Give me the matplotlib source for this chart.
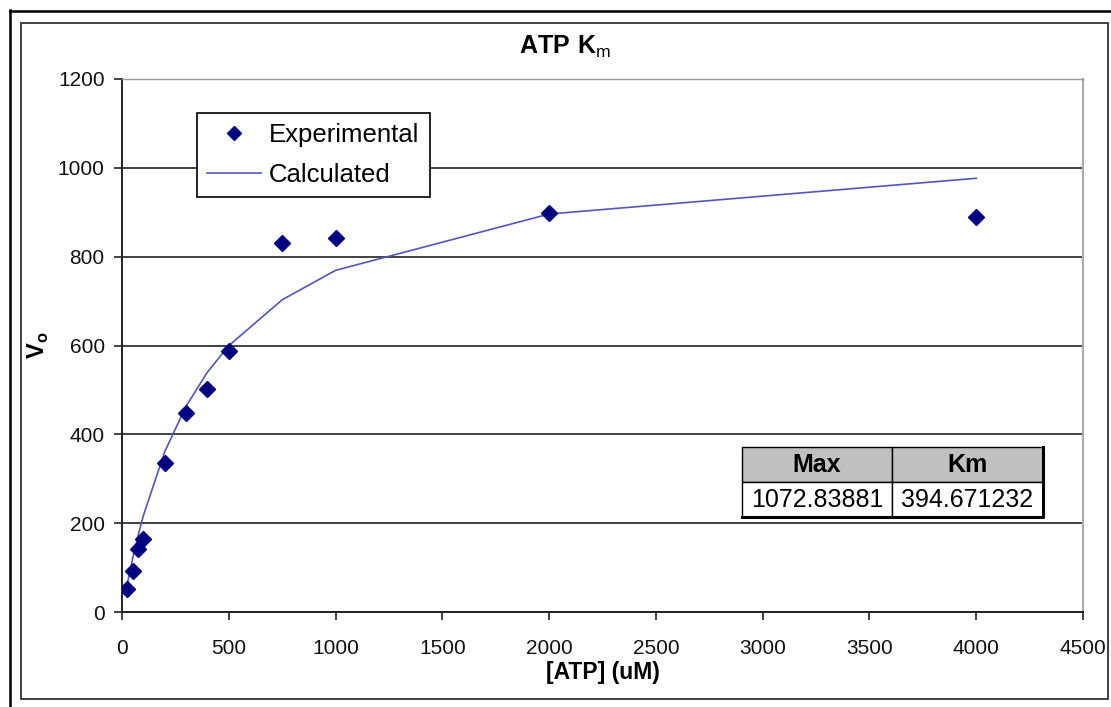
import matplotlib
matplotlib.use("Agg")
import matplotlib.pyplot as plt
from matplotlib.lines import Line2D

plt.rcParams['font.family'] = ['Liberation Sans', 'DejaVu Sans']
plt.rcParams['mathtext.fontset'] = 'custom'
plt.rcParams['mathtext.rm'] = 'Liberation Sans'
plt.rcParams['mathtext.bf'] = 'Liberation Sans:bold'

# data
atp = [25, 50, 75, 100, 200, 300, 400, 500, 750, 1000, 2000, 4000]
v_exp = [52, 93, 141, 165, 336, 447, 502, 588, 831, 842, 898, 890]
v_calc = [63.9, 120.6, 171.3, 216.9, 360.8, 463.3, 540.0, 599.6, 702.9, 769.2, 896.0, 976.5]
fit_cols = ["Max", "Km"]
fit_vals = ["1072.83881", "394.671232"]
x_ticks = list(range(0, 4501, 500))
y_ticks = list(range(0, 1201, 200))

W, H = 1111, 707
fig = plt.figure(figsize=(W / 100, H / 100), dpi=100)

# frames around the chart
fig.add_artist(Line2D([10 / W, 10 / W], [0, 1 - 10 / H], color='black', lw=1.8))
fig.add_artist(Line2D([10 / W, 1], [1 - 11 / H, 1 - 11 / H], color='black', lw=1.8))
fig.add_artist(plt.Rectangle((21 / W, 1 - 699 / H), (1108 - 21) / W, (699 - 23) / H,
                             fill=False, edgecolor='#333333', lw=1.3, transform=fig.transFigure))

ax = fig.add_axes([122 / W, 1 - 612 / H, (1083 - 122) / W, (612 - 79) / H])

ax.plot(atp, v_calc, color='#5555BB', lw=1.2, label='Calculated', zorder=3)
ax.plot(atp, v_exp, linestyle='none', marker='D', ms=8.5, color='#000080',
        label='Experimental', zorder=4)

ax.set_xlim(0, 4500)
ax.set_ylim(0, 1200)
ax.set_xticks(x_ticks)
ax.set_yticks(y_ticks)
ax.tick_params(axis='both', direction='out', length=5.5, width=1.2, color='#222222',
               labelsize=15, labelcolor='#111111')
ax.tick_params(axis='x', pad=14)
ax.tick_params(axis='y', pad=7)

ax.grid(axis='y', color='#333333', lw=1.3)
ax.set_axisbelow(True)
ax.spines['left'].set_color('#222222')
ax.spines['left'].set_linewidth(1.4)
ax.spines['bottom'].set_color('#222222')
ax.spines['bottom'].set_linewidth(1.4)
ax.spines['top'].set_color('#999999')
ax.spines['top'].set_linewidth(1.0)
ax.spines['right'].set_color('#aaaaaa')
ax.spines['right'].set_linewidth(1.5)

ax.set_xlabel('[ATP] (uM)', fontsize=16.5, fontweight='bold', labelpad=2)
ax.set_ylabel(r'$\mathbf{V}_\mathbf{o}$', fontsize=17)
ax.yaxis.set_label_coords(-0.074, 0.5)

fig.text(565 / W, 1 - 47 / H, r'$\mathbf{ATP\ K}_\mathrm{m}$', fontsize=18,
         ha='center', va='center')

handles = [ax.get_lines()[1], ax.get_lines()[0]]
leg = ax.legend(handles, ['Experimental', 'Calculated'], loc='upper left',
                bbox_to_anchor=(0.078, 0.936), borderaxespad=0, fontsize=18.5,
                frameon=True, fancybox=False, framealpha=1, edgecolor='black',
                handlelength=2.1, handletextpad=0.3, labelspacing=0.6,
                borderpad=0.4, markerscale=0.8)
leg.get_frame().set_linewidth(1.2)

tbl = ax.table(cellText=[fit_vals], colLabels=fit_cols, cellLoc='center',
               bbox=[0.645, 0.178, 0.313, 0.131])
tbl.auto_set_font_size(False)
for (r, c), cell in tbl.get_celld().items():
    cell.set_edgecolor('black')
    cell.set_linewidth(1.0)
    cell.get_text().set_fontsize(18)
    if r == 0:
        cell.set_facecolor('#C0C0C0')
        cell.get_text().set_fontweight('bold')
    else:
        cell.set_facecolor('white')
tbl.set_zorder(5)
# heavier right and bottom edge of the table
ax.plot([0.645, 0.958, 0.958], [0.178, 0.178, 0.309], color='black', lw=2.2,
        transform=ax.transAxes, clip_on=False, zorder=6)

fig.savefig('out.png', dpi=100)
